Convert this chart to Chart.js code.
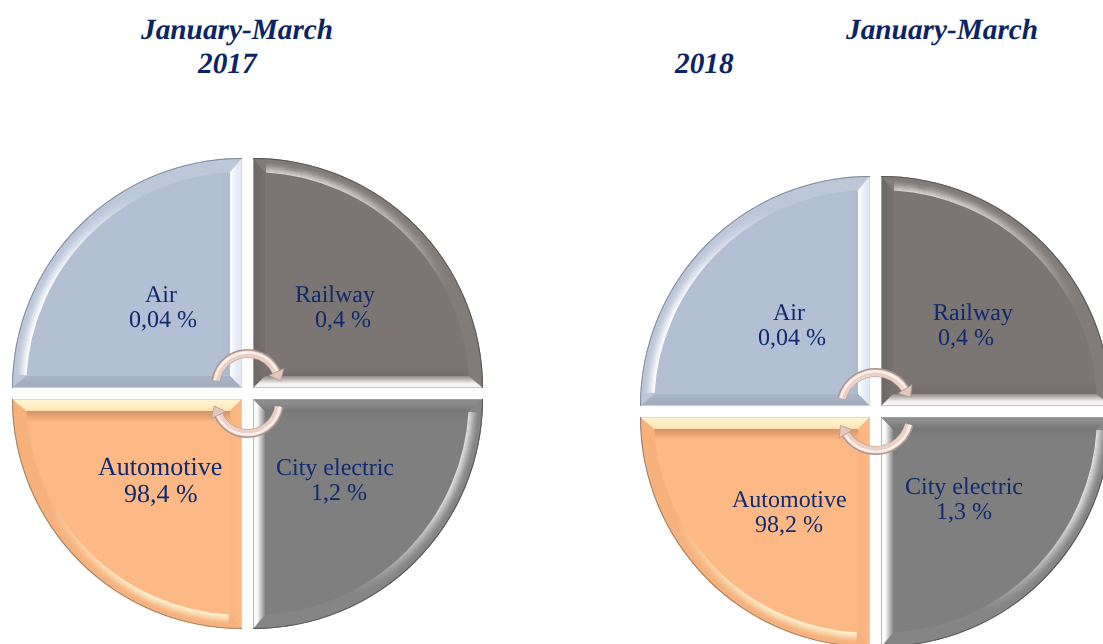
<!DOCTYPE html>
<html>
<head>
<meta charset="utf-8">
<script src="https://cdn.jsdelivr.net/npm/chart.js@4/dist/chart.umd.js"></script>
<style>
  html, body { margin: 0; background: #fff; }
  #page { position: relative; width: 1103px; height: 644px; overflow: hidden; }
  #page canvas { position: absolute; }
  .title { position: absolute; font: italic bold 29.3px "Liberation Serif", serif; color: #0c2461; white-space: nowrap; line-height: 34px; text-rendering: geometricPrecision; }
</style>
</head>
<body>
<div id="page">
  <div class="title" style="left:141px;top:13px">January-March</div>
  <div class="title" style="left:198px;top:47px">2017</div>
  <div class="title" style="left:846px;top:13px">January-March</div>
  <div class="title" style="left:675px;top:47px">2018</div>
  <canvas id="chart2017" width="495" height="501" style="left:0;top:143px"></canvas>
  <canvas id="chart2018" width="499" height="501" style="left:626px;top:161px"></canvas>
</div>
<script>
// data, clockwise from the top right
const categories = ['Railway', 'City electric', 'Automotive', 'Air'];
const sectorSizes = [1, 1, 1, 1]; // the quadrants are equal in the original, whatever the share
const shares2017 = [0.4, 1.2, 98.4, 0.04];
const shares2018 = [0.4, 1.3, 98.2, 0.04];

const RADIUS = 230, GAP = 5.5, INSET = 12, BAND = 14;

// look of each quadrant
const looks = [
  { fill: '#7b7573', edge: '#57524f', side: '#b5b1af', arcBand: '#817b79', vBand: ['#6f6a68', '#767170'], hBand: ['#f7f5f4', '#8f8a88'],
    shade: ['h', 'rgba(90,85,83,.25)'], glow: ['rgba(225,221,219,.85)', 'rgba(225,221,219,0)'] },
  { fill: '#7f7f7f', edge: '#555555', side: '#a5a5a5', arcBand: '#858585', vBand: ['#fbfbfb', '#8a8a8a'], hBand: ['#8d8d8d', '#767676'],
    shade: ['h', 'rgba(90,90,90,.18)'], glow: ['rgba(230,230,230,.9)', 'rgba(230,230,230,0)'] },
  { fill: '#fcb985', edge: '#9c7d63', side: '#e8cdb6', arcBand: '#f6b17d', vBand: ['#fbb883', '#f9b480'], hBand: ['#fff3cf', '#fde2ae'],
    shade: ['h', 'rgba(190,120,80,.6)'], glow: ['rgba(255,248,215,.95)', 'rgba(255,248,215,0)'] },
  { fill: '#b3bfd2', edge: '#7d8894', side: '#cfd8e4', arcBand: '#bcc8da', vBand: ['#e2ebf5', '#ffffff'], hBand: ['#a3afc0', '#aab6c8'],
    shade: ['v', 'rgba(150,165,190,.2)'], glow: ['rgba(255,255,255,1)', 'rgba(255,255,255,0)'] }
];

const comma = v => String(v).replace('.', ',') + ' %';

function sectorPath(ctx, arc) {
  ctx.beginPath();
  ctx.moveTo(arc.x, arc.y);
  ctx.arc(arc.x, arc.y, arc.outerRadius, arc.startAngle, arc.endAngle);
  ctx.closePath();
}

function drawBevel(ctx, arc, look) {
  const mid = (arc.startAngle + arc.endAngle) / 2;
  const sx = Math.sign(Math.cos(mid)), sy = Math.sign(Math.sin(mid));
  const x = arc.x, y = arc.y, R = arc.outerRadius, r = R - BAND;
  const far = Math.sqrt(r * r - INSET * INSET);
  ctx.save();
  sectorPath(ctx, arc);
  ctx.clip();

  // band along the curved edge
  ctx.beginPath();
  ctx.arc(x, y, R, arc.startAngle, arc.endAngle);
  ctx.arc(x, y, r, arc.endAngle, arc.startAngle, true);
  ctx.closePath();
  ctx.fillStyle = look.arcBand;
  ctx.fill();

  // highlight on the inner side of that band, fading along the curve
  const g = ctx.createLinearGradient(
    x + Math.cos(arc.startAngle) * r, y + Math.sin(arc.startAngle) * r,
    x + Math.cos(arc.endAngle) * r, y + Math.sin(arc.endAngle) * r
  );
  g.addColorStop(0.02, look.glow[0]);
  g.addColorStop(0.25, look.glow[0]);
  g.addColorStop(0.72, look.glow[1]);
  ctx.strokeStyle = g;
  ctx.lineWidth = 1.3;
  for (let i = 0; i < 10; i++) {
    ctx.globalAlpha = Math.pow(1 - i / 10, 1.5);
    ctx.beginPath();
    ctx.arc(x, y, r + 0.5 + i, arc.startAngle + 0.06, arc.endAngle - 0.06);
    ctx.stroke();
  }
  ctx.globalAlpha = 1;

  // soft strip just inside the straight bands
  const strip = look.shade[0] === 'h'
    ? ctx.createLinearGradient(0, y + sy * INSET, 0, y + sy * (INSET + 11))
    : ctx.createLinearGradient(x + sx * INSET, 0, x + sx * (INSET + 11), 0);
  strip.addColorStop(0, look.shade[1]);
  strip.addColorStop(1, look.shade[1].replace(/[\d.]+\)$/, '0)'));
  ctx.save();
  ctx.beginPath();
  ctx.arc(x, y, r, arc.startAngle, arc.endAngle);
  ctx.lineTo(x, y);
  ctx.closePath();
  ctx.clip();
  ctx.fillStyle = strip;
  ctx.fillRect(Math.min(x, x + sx * R), Math.min(y, y + sy * R), R, R);
  ctx.restore();

  // vertical straight band
  let grad = ctx.createLinearGradient(x, 0, x + sx * INSET, 0);
  grad.addColorStop(0, look.vBand[0]);
  grad.addColorStop(0.35, look.vBand[0]);
  grad.addColorStop(1, look.vBand[1]);
  ctx.fillStyle = grad;
  ctx.beginPath();
  ctx.moveTo(x, y);
  ctx.lineTo(x + sx * INSET, y + sy * INSET);
  ctx.lineTo(x + sx * INSET, y + sy * far);
  ctx.lineTo(x, y + sy * R);
  ctx.closePath();
  ctx.fill();

  // horizontal straight band
  grad = ctx.createLinearGradient(0, y, 0, y + sy * INSET);
  grad.addColorStop(0, look.hBand[0]);
  grad.addColorStop(0.35, look.hBand[0]);
  grad.addColorStop(1, look.hBand[1]);
  ctx.fillStyle = grad;
  ctx.beginPath();
  ctx.moveTo(x, y);
  ctx.lineTo(x + sx * INSET, y + sy * INSET);
  ctx.lineTo(x + sx * far, y + sy * INSET);
  ctx.lineTo(x + sx * R, y);
  ctx.closePath();
  ctx.fill();

  // thin outline: pale on the straight sides, darker on the curve
  sectorPath(ctx, arc);
  ctx.strokeStyle = look.side;
  ctx.lineWidth = 1.5;
  ctx.stroke();
  ctx.beginPath();
  ctx.arc(x, y, R, arc.startAngle, arc.endAngle);
  ctx.strokeStyle = look.edge;
  ctx.lineWidth = 2;
  ctx.stroke();
  ctx.restore();
}

function drawArrow(ctx, cx, cy, arrow, flip) {
  const from = arrow.from * Math.PI / 180, to = arrow.to * Math.PI / 180, r = arrow.r;
  ctx.save();
  ctx.translate(cx, cy);
  if (flip) ctx.rotate(Math.PI);
  ctx.translate(0, -arrow.lift);
  ctx.lineCap = 'butt';
  [[9, '#ac968d', 0], [7, '#ecd0c6', -0.5], [2.4, '#fbf0ec', 1]].forEach(s => {
    ctx.lineWidth = s[0];
    ctx.strokeStyle = s[1];
    ctx.beginPath();
    ctx.arc(0, 0, r + s[2], from, to);
    ctx.stroke();
  });
  const bx = Math.cos(to) * r, by = Math.sin(to) * r;
  const tx = -Math.sin(to), ty = Math.cos(to);
  const nx = Math.cos(to), ny = Math.sin(to);
  ctx.beginPath();
  ctx.moveTo(bx + nx * 8, by + ny * 8);
  ctx.lineTo(bx + tx * 10, by + ty * 10);
  ctx.lineTo(bx - nx * 8, by - ny * 8);
  ctx.closePath();
  ctx.fillStyle = '#e4c7bc';
  ctx.strokeStyle = '#b09a91';
  ctx.lineWidth = 0.8;
  ctx.fill();
  ctx.stroke();
  ctx.restore();
}

const bevelPlugin = {
  id: 'bevel',
  afterDatasetUpdate(chart, args) {
    // pull the quadrants apart so a straight white cross stays between them
    args.meta.data.forEach(arc => {
      const mid = (arc.startAngle + arc.endAngle) / 2;
      arc.x += Math.sign(Math.cos(mid)) * GAP;
      arc.y += Math.sign(Math.sin(mid)) * GAP;
    });
  },
  afterDatasetsDraw(chart, args, opts) {
    const ctx = chart.ctx;
    const arcs = chart.getDatasetMeta(0).data;
    arcs.forEach((arc, i) => drawBevel(ctx, arc, looks[i]));
    const cx = (chart.chartArea.left + chart.chartArea.right) / 2;
    const cy = (chart.chartArea.top + chart.chartArea.bottom) / 2;
    drawArrow(ctx, cx, cy, opts.arrow, false);
    drawArrow(ctx, cx, cy, opts.arrow, true);

    // labels: name on one line, share under it
    ctx.save();
    ctx.fillStyle = '#0f2a6e';
    ctx.textAlign = 'left';
    ctx.textBaseline = 'alphabetic';
    ctx.textRendering = 'geometricPrecision';
    opts.labels.forEach((l, i) => {
      ctx.font = l.size + 'px "Liberation Serif", serif';
      ctx.fillText(categories[i], l.name[0], l.name[1]);
      ctx.fillText(comma(opts.shares[i]), l.share[0], l.share[1]);
    });
    ctx.restore();
  }
};

function makeChart(id, shares, arrow, labels) {
  return new Chart(document.getElementById(id), {
    type: 'pie',
    data: {
      labels: categories,
      datasets: [{
        data: sectorSizes,
        backgroundColor: looks.map(l => l.fill),
        borderWidth: 0,
        radius: RADIUS
      }]
    },
    options: {
      responsive: false,
      animation: false,
      events: [],
      plugins: {
        legend: { display: false },
        tooltip: { enabled: false },
        bevel: { shares, arrow, labels }
      }
    },
    plugins: [bevelPlugin]
  });
}

// label positions are canvas pixels
makeChart('chart2017', shares2017, { r: 32, lift: 8, from: 189, to: 335 }, [
  { size: 24, name: [295, 159], share: [315, 184] },
  { size: 24, name: [276, 332], share: [311, 357] },
  { size: 26, name: [98, 332], share: [124, 359] },
  { size: 24, name: [145, 159], share: [129, 184] }
]);
makeChart('chart2018', shares2018, { r: 35, lift: 4, from: 195, to: 328 }, [
  { size: 24, name: [307, 159], share: [312, 184] },
  { size: 24, name: [279, 333], share: [310, 358] },
  { size: 24, name: [106, 346], share: [129, 371] },
  { size: 24, name: [147, 159], share: [132, 184] }
]);
</script>
</body>
</html>
